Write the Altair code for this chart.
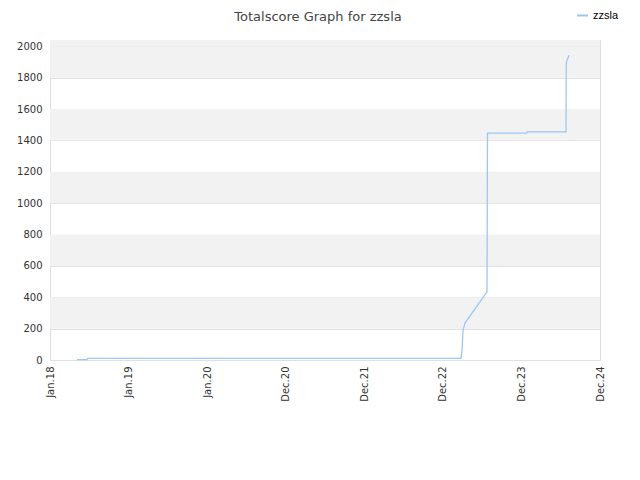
import altair as alt
import pandas as pd

# x positions in "tick units" (0 = Jan.18, 1 = Jan.19, ... 7 = Dec.24)
tick_labels = ["Jan.18", "Jan.19", "Jan.20", "Dec.20", "Dec.21", "Dec.22", "Dec.23", "Dec.24"]
xs = [0.344, 0.471, 0.48, 5.231, 5.244, 5.257, 5.282, 5.562, 5.568, 6.067, 6.071, 6.567, 6.571, 6.58, 6.606]
scores = [2, 2, 10, 10, 64, 190, 235, 435, 1446, 1446, 1454, 1454, 1890, 1911, 1943]
series = ["zzsla"] * len(xs)

band_lo = [200, 600, 1000, 1400, 1800, 2000]
band_hi = [400, 800, 1200, 1600, 2000, 2040]

df = pd.DataFrame({"x": xs, "score": scores, "series": series})
bands = pd.DataFrame({"lo": band_lo, "hi": band_hi})

label_expr = "[" + ",".join(f"'{t}'" for t in tick_labels) + "][datum.value]"

xscale = alt.Scale(domain=[0, 7], nice=False, zero=False)
yscale = alt.Scale(domain=[0, 2040], nice=False)

y_axis = alt.Axis(values=list(range(0, 2001, 200)), title=None, grid=True, format="d",
                  gridColor="#e0e0e0", ticks=False, domain=False,
                  labelFontSize=10, labelColor="#333", labelPadding=8,
                  labelFont="DejaVu Sans")

band_layer = alt.Chart(bands).mark_rect(color="#f2f2f2").encode(
    x=alt.value(0), x2=alt.value(550),
    y=alt.Y("lo:Q", scale=yscale, axis=y_axis),
    y2="hi:Q",
)

line = alt.Chart(df).mark_line(strokeWidth=1.3, interpolate="linear").encode(
    x=alt.X("x:Q", scale=xscale,
            axis=alt.Axis(values=list(range(8)), labelExpr=label_expr, labelAngle=-90,
                          title=None, grid=False, ticks=False, domain=False,
                          labelFontSize=10, labelColor="#333", labelPadding=6,
                          labelFont="DejaVu Sans", labelAlign="right", labelBaseline="middle")),
    y=alt.Y("score:Q", scale=yscale, axis=y_axis),
    color=alt.Color("series:N", scale=alt.Scale(range=["#99c8f5"]),
                    legend=alt.Legend(title=None, orient="none", legendX=526, legendY=-31,
                                      symbolType="stroke", symbolStrokeWidth=2, symbolSize=120,
                                      labelFontSize=11, labelColor="#000", labelFont="Liberation Sans")),
)

chart = alt.layer(band_layer, line).properties(
    width=550, height=320,
    title=alt.TitleParams("Totalscore Graph for zzsla", fontSize=13, font="DejaVu Sans",
                          fontWeight="normal", color="#444", anchor="middle", offset=18,
                          dx=-7, dy=33),
    padding={"left": 42, "top": 32, "right": 32, "bottom": 80},
    autosize=alt.AutoSizeParams(type="none"),
).configure_view(stroke="#d8d8d8", strokeWidth=1).configure(background="white")

chart.save("out.html", embed_options={"renderer": "svg", "actions": False})
